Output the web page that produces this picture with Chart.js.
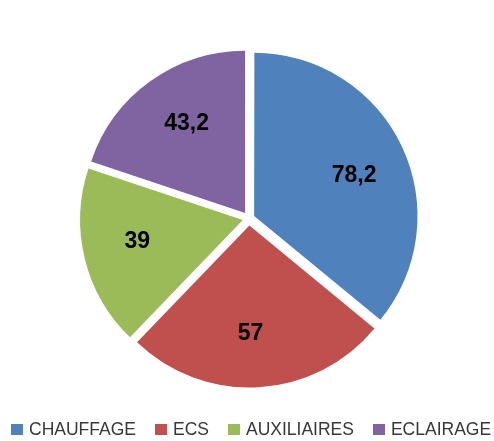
<!DOCTYPE html>
<html>
<head>
<meta charset="utf-8">
<script src="https://cdn.jsdelivr.net/npm/chart.js@4.4.0/dist/chart.umd.min.js"></script>
<style>
  html, body { margin: 0; padding: 0; background: #fff; }
  #wrap { position: relative; width: 494px; height: 441px; }
  #legend {
    position: absolute; left: 11px; top: 419px; height: 20px;
    display: flex; align-items: center; gap: 19px;
    font-family: "Liberation Sans", Arial, sans-serif; font-size: 17.5px; color: #383838;
    white-space: nowrap;
  }
  .lg-item { display: flex; align-items: center; }
  .lg-box { width: 12px; height: 11px; margin-right: 6px; }
</style>
</head>
<body>
<div id="wrap">
  <canvas id="pie" width="494" height="441"></canvas>
  <div id="legend"></div>
</div>
<script>
// data
const labels = ['CHAUFFAGE', 'ECS', 'AUXILIAIRES', 'ECLAIRAGE'];
const values = [78.2, 57, 39, 43.2];
const colors = ['#4F81BD', '#C0504D', '#9BBB59', '#8064A2'];

// how far every slice is pulled out (px)
const EXPLODE = 7;

// chart.js scales the offset option by (2 - sin(circumference)) / 4, undo that
function sliceOffset(ctx) {
  const data = ctx.dataset.data;
  const total = data.reduce((a, b) => a + b, 0);
  const circ = data[ctx.dataIndex] / total * Math.PI * 2;
  return 4 * EXPLODE / (2 - Math.sin(Math.min(Math.PI, circ)));
}

// value labels inside slices (french decimal comma)
const sliceLabels = {
  id: 'sliceLabels',
  afterDatasetsDraw(chart) {
    const ctx = chart.ctx;
    const meta = chart.getDatasetMeta(0);
    ctx.save();
    ctx.font = 'bold 23px "Liberation Sans", Arial, sans-serif';
    ctx.fillStyle = '#000';
    ctx.textAlign = 'center';
    ctx.textBaseline = 'middle';
    meta.data.forEach((arc, i) => {
      const p = arc.getProps(['x', 'y', 'startAngle', 'endAngle', 'outerRadius'], true);
      const mid = (p.startAngle + p.endAngle) / 2 + 0.045; // excel sits them a bit clockwise
      const r = p.outerRadius * 0.66 + EXPLODE;
      const txt = String(chart.data.datasets[0].data[i]).replace('.', ',');
      ctx.fillText(txt, p.x + Math.cos(mid) * r, p.y + Math.sin(mid) * r + 1);
    });
    ctx.restore();
  }
};

new Chart(document.getElementById('pie'), {
  type: 'pie',
  data: {
    labels: labels,
    datasets: [{
      data: values,
      backgroundColor: colors,
      borderWidth: 0,
      offset: sliceOffset,
      hoverOffset: 0
    }]
  },
  options: {
    responsive: false,
    animation: false,
    layout: { padding: { top: 42.5, bottom: 46.5, left: 4, right: 0 } },
    plugins: { legend: { display: false }, tooltip: { enabled: false } }
  },
  plugins: [sliceLabels]
});

// legend below
document.getElementById('legend').innerHTML = labels.map((l, i) =>
  `<div class="lg-item"><span class="lg-box" style="background:${colors[i]}"></span><span>${l}</span></div>`
).join('');
</script>
</body>
</html>
